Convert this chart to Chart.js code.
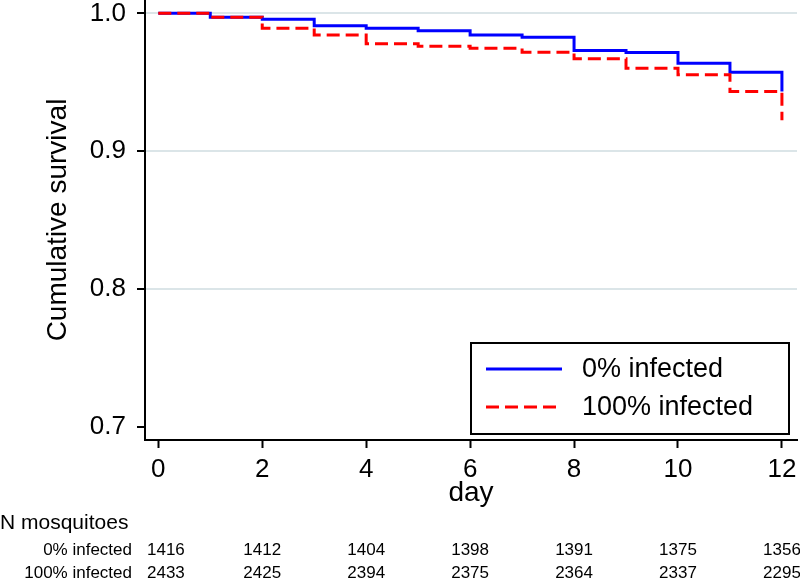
<!DOCTYPE html>
<html>
<head>
<meta charset="utf-8">
<script src="https://cdn.jsdelivr.net/npm/chart.js@4.4.1/dist/chart.umd.min.js"></script>
<style>
  html, body { margin: 0; padding: 0; background: #fff; }
  #wrap { width: 800px; height: 581px; position: relative; }
</style>
</head>
<body>
<div id="wrap"><canvas id="chartKM"></canvas></div>
<script>
// survival curves, one value per day (value after that day's deaths)
const days = [0, 1, 2, 3, 4, 5, 6, 7, 8, 9, 10, 11, 12];
const surv0 = [1.0, 0.9971, 0.9957, 0.9910, 0.9892, 0.9874, 0.9843, 0.9826, 0.9730, 0.9715, 0.9638, 0.9573, 0.9433];
const surv100 = [1.0, 0.9971, 0.9892, 0.9843, 0.9780, 0.9761, 0.9747, 0.9718, 0.9670, 0.9602, 0.9554, 0.9433, 0.9224];
const seriesLabels = ['0% infected', '100% infected'];

const xTicks = [0, 2, 4, 6, 8, 10, 12];
const yTicks = [0.7, 0.8, 0.9, 1.0];

// number at risk table
const riskTitle = 'N mosquitoes';
const riskDays = [0, 2, 4, 6, 8, 10, 12];
const risk0 = [1416, 1412, 1404, 1398, 1391, 1375, 1356];
const risk100 = [2433, 2425, 2394, 2375, 2364, 2337, 2295];

const FONT = '"Liberation Sans", Arial, Helvetica, sans-serif';
Chart.defaults.font.family = FONT;
Chart.defaults.color = '#000';

function _pts(vals) {
  return days.map((d, i) => ({ x: d, y: vals[i] }));
}

// legend box inside plot, bottom right
const boxLegend = {
  id: 'boxLegend',
  afterDraw(chart) {
    const { ctx, chartArea } = chart;
    const w = 318, h = 91;
    const right = chartArea.right - 8;
    const bottom = chartArea.bottom - 6;
    const left = right - w, top = bottom - h;
    ctx.save();
    ctx.fillStyle = '#fff';
    ctx.fillRect(left, top, w, h);
    ctx.strokeStyle = '#000';
    ctx.lineWidth = 2;
    ctx.strokeRect(left, top, w, h);
    const rows = [top + 26, top + 64];
    chart.data.datasets.forEach((ds, i) => {
      const y = rows[i];
      ctx.beginPath();
      ctx.setLineDash(ds.borderDash || []);
      ctx.strokeStyle = ds.borderColor;
      ctx.lineWidth = ds.borderWidth;
      ctx.moveTo(left + 15, y);
      ctx.lineTo(left + 91, y);
      ctx.stroke();
      ctx.setLineDash([]);
      ctx.fillStyle = '#000';
      ctx.font = '27px ' + FONT;
      ctx.textAlign = 'left';
      ctx.textBaseline = 'middle';
      ctx.fillText(ds.label, left + 111, y + 1);
    });
    ctx.restore();
  }
};

// risk table below the x axis
const riskTable = {
  id: 'riskTable',
  afterDraw(chart) {
    const { ctx } = chart;
    const xs = chart.scales.x;
    const labRight = 132;
    ctx.save();
    ctx.fillStyle = '#000';
    ctx.textBaseline = 'middle';
    ctx.font = '21px ' + FONT;
    ctx.textAlign = 'left';
    ctx.fillText(riskTitle, 0, 523);
    ctx.font = '17px ' + FONT;
    [[seriesLabels[0], risk0, 550], [seriesLabels[1], risk100, 573]].forEach(([lab, vals, y]) => {
      ctx.textAlign = 'right';
      ctx.fillText(lab, labRight, y);
      ctx.textAlign = 'center';
      vals.forEach((n, i) => {
        const s = String(n);
        const w = ctx.measureText(s).width;
        const cx = Math.max(xs.getPixelForValue(riskDays[i]), labRight + 15 + w / 2);
        ctx.fillText(s, cx, y);
      });
    });
    ctx.restore();
  }
};

new Chart(document.getElementById('chartKM'), {
  type: 'line',
  data: {
    datasets: [
      { label: seriesLabels[0], data: _pts(surv0), stepped: 'before', borderColor: '#0000ff', borderWidth: 3, pointRadius: 0, fill: false, order: 1 },
      { label: seriesLabels[1], data: _pts(surv100), stepped: 'before', borderColor: '#ff0000', borderWidth: 3, borderDash: [13, 6], pointRadius: 0, fill: false, order: 0 }
    ]
  },
  options: {
    responsive: true,
    maintainAspectRatio: false,
    animation: false,
    layout: { padding: { top: 0, right: 3, bottom: 0, left: 0 } },
    plugins: { legend: { display: false }, tooltip: { enabled: false } },
    scales: {
      x: {
        type: 'linear', min: -0.256, max: 12.29,
        afterBuildTicks: s => { s.ticks = xTicks.map(v => ({ value: v })); },
        afterFit: s => { s.height = 141; s.paddingLeft = 0; s.paddingRight = 0; },
        border: { color: '#000', width: 2 },
        grid: { drawOnChartArea: false, tickColor: '#000', tickLength: 8, tickWidth: 2 },
        ticks: { color: '#000', font: { size: 26 }, padding: 6, maxRotation: 0, autoSkip: false },
        title: { display: true, text: 'day', color: '#000', font: { size: 28 }, padding: { top: 0, bottom: 71 } }
      },
      y: {
        type: 'linear', min: 0.6903, max: 1.0097,
        afterBuildTicks: s => { s.ticks = yTicks.map(v => ({ value: v })); },
        afterFit: s => { s.width = 145; s.paddingTop = 0; s.paddingBottom = 0; },
        border: { color: '#000', width: 2 },
        grid: {
          color: c => (c.tick && c.tick.value > 0.75 ? '#dbe5e8' : 'rgba(0,0,0,0)'),
          lineWidth: 2, tickColor: '#000', tickLength: 8, tickWidth: 2
        },
        ticks: { color: '#000', font: { size: 26 }, padding: 11, callback: v => v.toFixed(1) },
        title: { display: true, text: 'Cumulative survival', color: '#000', font: { size: 28 }, padding: { top: 41, bottom: 0 } }
      }
    }
  },
  plugins: [boxLegend, riskTable]
});
</script>
</body>
</html>
